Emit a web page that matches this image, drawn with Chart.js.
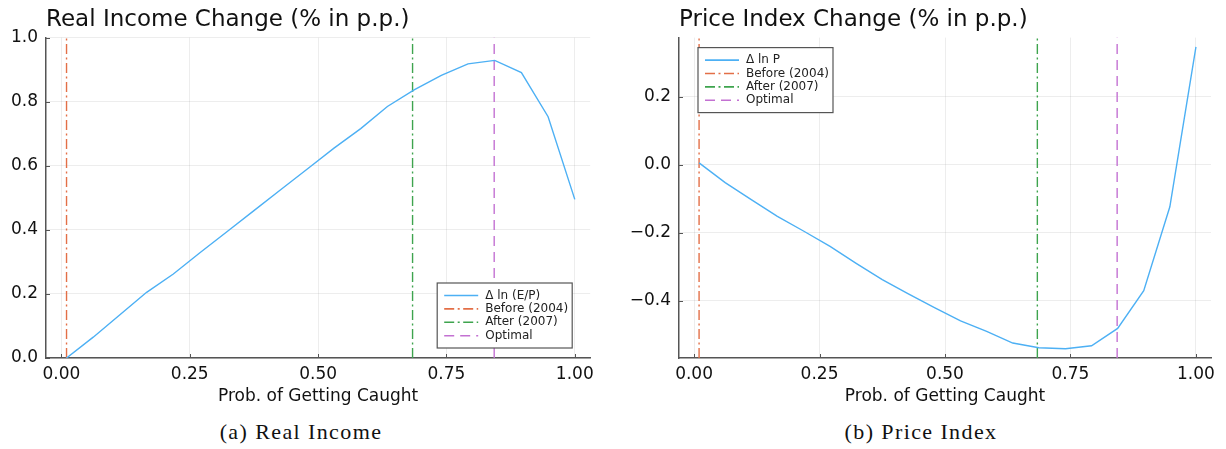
<!DOCTYPE html>
<html>
<head>
<meta charset="utf-8">
<script src="https://cdn.jsdelivr.net/npm/chart.js@4.4.1/dist/chart.umd.min.js"></script>
<style>
  body { margin: 0; background: #fff; width: 1226px; height: 449px; position: relative; overflow: hidden; }
  .panel { position: absolute; top: 0; height: 408px; }
  .caption { position: absolute; top: 420px; line-height: 24px; font-family: "Liberation Serif", serif; font-size: 22px;
             letter-spacing: 1.4px; color: #111; white-space: nowrap; transform: translateX(-50%); }
</style>
</head>
<body>
<div class="panel" style="left:0; width:600px;"><canvas id="income"></canvas></div>
<div class="panel" style="left:613px; width:613px;"><canvas id="price"></canvas></div>
<div class="caption" style="left:301px;">(a) Real Income</div>
<div class="caption" style="left:921px;">(b) Price Index</div>

<script>
"use strict";

// detection probability grid
const probs = [0.01, 0.062, 0.114, 0.166, 0.218, 0.271, 0.323, 0.375, 0.427, 0.479,
               0.531, 0.583, 0.635, 0.687, 0.740, 0.792, 0.844, 0.896, 0.948, 1.0];

// Δ ln (E/P)
const realIncome = [0.0, 0.065, 0.135, 0.205, 0.262, 0.33, 0.395, 0.46, 0.525, 0.59,
                    0.655, 0.716, 0.785, 0.837, 0.882, 0.918, 0.929, 0.891, 0.753, 0.495];

// Δ ln P
const priceIndex = [0.005, -0.053, -0.103, -0.152, -0.195, -0.24, -0.29, -0.338, -0.38, -0.42,
                    -0.459, -0.49, -0.524, -0.538, -0.541, -0.532, -0.481, -0.37, -0.124, 0.346];

// policy markers
const markerLabels = ["Before (2004)", "After (2007)", "Optimal"];
const markerProbs = [0.01, 0.684, 0.843];
const markerColors = ["#E36F47", "#3EA44E", "#C371D2"];
const markerDash = [[10, 3.5, 2, 3.5], [10, 3.5, 2, 3.5], [10, 6]];

// tick labels
const xTicks = [0, 0.25, 0.5, 0.75, 1];
const incomeTicks = [0, 0.2, 0.4, 0.6, 0.8, 1.0];
const priceTicks = [-0.4, -0.2, 0, 0.2];

Chart.defaults.font.family = "DejaVu Sans";
Chart.defaults.color = "#111";

const BLUE = "#4db0f4";
const AXIS = "#555";

// Plots-style legend box inside the plot area
const legendBox = {
  id: "legendBox",
  afterDraw(chart, args, opts) {
    const ctx = chart.ctx, a = chart.chartArea;
    const w = 135, h = 65;
    const x = opts.corner === "br" ? a.right - 18 - w : a.left + 19;
    const y = opts.corner === "br" ? a.bottom - 10 - h : a.top + 10;
    ctx.save();
    ctx.fillStyle = "#fff";
    ctx.fillRect(x, y, w, h);
    ctx.strokeStyle = AXIS;
    ctx.lineWidth = 1.2;
    ctx.strokeRect(x, y, w, h);
    ctx.font = "12px 'DejaVu Sans'";
    ctx.textBaseline = "middle";
    chart.data.datasets.forEach((ds, i) => {
      const ry = y + 12.5 + i * 13.4;
      ctx.strokeStyle = ds.borderColor;
      ctx.lineWidth = 1.6;
      ctx.setLineDash(ds.borderDash || []);
      ctx.beginPath();
      ctx.moveTo(x + 7, ry);
      ctx.lineTo(x + 41, ry);
      ctx.stroke();
      ctx.setLineDash([]);
      ctx.fillStyle = "#222";
      ctx.fillText(ds.label, x + 48, ry);
    });
    ctx.restore();
  }
};

// short inward tick marks
const innerTicks = {
  id: "innerTicks",
  afterDraw(chart) {
    const ctx = chart.ctx, a = chart.chartArea, sx = chart.scales.x, sy = chart.scales.y;
    ctx.save();
    ctx.strokeStyle = AXIS;
    ctx.lineWidth = 1;
    ctx.beginPath();
    sx.ticks.forEach(t => {
      const p = Math.round(sx.getPixelForValue(t.value)) + 0.5;
      ctx.moveTo(p, a.bottom);
      ctx.lineTo(p, a.bottom - 4);
    });
    sy.ticks.forEach(t => {
      const p = Math.round(sy.getPixelForValue(t.value)) + 0.5;
      ctx.moveTo(a.left, p);
      ctx.lineTo(a.left + 4, p);
    });
    ctx.stroke();
    ctx.restore();
  }
};

function makeChart(id, series, seriesLabel, title, yMin, yMax, yTicks, yWidth, padRight, corner) {
  const datasets = [{
    label: seriesLabel,
    data: probs.map((p, i) => ({ x: p, y: series[i] })),
    borderColor: BLUE,
    borderWidth: 1.4,
    pointRadius: 0,
    tension: 0
  }];
  markerLabels.forEach((lab, i) => {
    datasets.push({
      label: lab,
      data: [{ x: markerProbs[i], y: yMin }, { x: markerProbs[i], y: yMax }],
      borderColor: markerColors[i],
      borderDash: markerDash[i],
      borderWidth: 1.4,
      pointRadius: 0
    });
  });

  return new Chart(document.getElementById(id), {
    type: "line",
    data: { datasets: datasets },
    options: {
      responsive: true,
      maintainAspectRatio: false,
      animation: false,
      devicePixelRatio: 1,
      layout: { padding: { left: 0, right: padRight, top: 0, bottom: 0 } },
      scales: {
        x: {
          type: "linear",
          min: -0.03,
          max: 1.03,
          afterBuildTicks: s => { s.ticks = xTicks.map(v => ({ value: v })); },
          afterFit: s => { s.height = 50; },
          ticks: { callback: v => v.toFixed(2), font: { size: 17 }, color: "#111", padding: 6, maxRotation: 0, autoSkip: false },
          grid: { color: "rgba(0,0,0,0.07)", drawTicks: false },
          border: { color: AXIS, width: 1.5 },
          title: { display: true, text: "Prob. of Getting Caught", font: { size: 17 }, color: "#111", padding: { top: 0, bottom: 1 } }
        },
        y: {
          min: yMin,
          max: yMax,
          afterBuildTicks: s => { s.ticks = yTicks.map(v => ({ value: v })); },
          afterFit: s => { s.width = yWidth; },
          ticks: { callback: v => v.toFixed(1).replace("-", "\u2212"), font: { size: 17 }, color: "#111", padding: 8 },
          grid: { color: "rgba(0,0,0,0.07)", drawTicks: false },
          border: { color: AXIS, width: 1.5 }
        }
      },
      plugins: {
        legend: { display: false },
        tooltip: { enabled: false },
        title: {
          display: true,
          text: title,
          align: "start",
          fullSize: false,
          color: "#111",
          font: { size: 23, weight: "normal" },
          padding: { top: 6, bottom: 4 }
        },
        legendBox: { corner: corner }
      }
    },
    plugins: [legendBox, innerTicks]
  });
}

makeChart("income", realIncome, "\u0394 ln (E/P)", "Real Income Change (% in p.p.)",
          0, 1, incomeTicks, 46, 7, "br");
makeChart("price", priceIndex, "\u0394 ln P", "Price Index Change (% in p.p.)",
          -0.568, 0.373, priceTicks, 66, 15, "tl");
</script>
</body>
</html>
